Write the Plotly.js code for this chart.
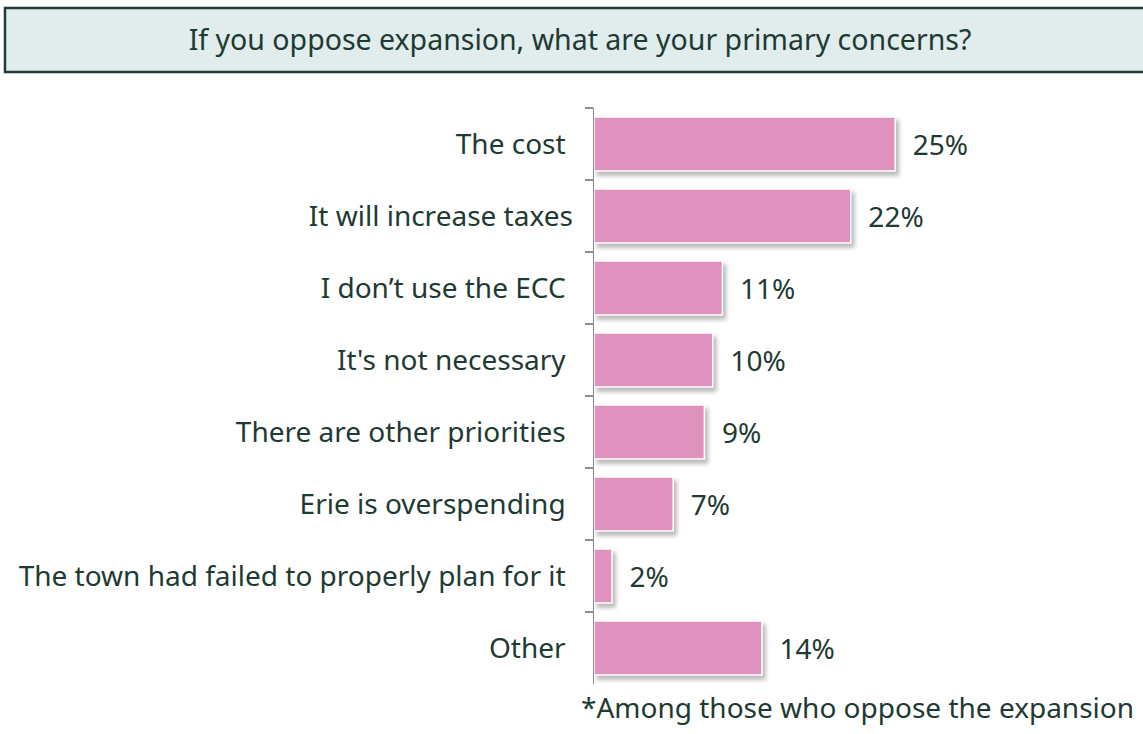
<!DOCTYPE html>
<html>
<head>
<meta charset="utf-8">
<script src="https://cdn.plot.ly/plotly-3.0.1.min.js"></script>
<style>
html,body{margin:0;padding:0;background:#fff;}
#chart{width:1143px;height:734px;}
.bars .point path{filter:drop-shadow(3px 4px 2px rgba(0,0,0,0.28));}
</style>
</head>
<body>
<div id="chart"></div>
<script>
const categories = [
  "The cost ",
  "It will increase taxes",
  "I don\u2019t use the ECC ",
  "It's not necessary ",
  "There are other priorities ",
  "Erie is overspending ",
  "The town had failed to properly plan for it ",
  "Other "
];
const values = [25.1, 21.4, 10.7, 9.9, 9.2, 6.6, 1.5, 14.0];
const valueLabels = ["25%", "22%", "11%", "10%", "9%", "7%", "2%", "14%"];
const titleText = "If you oppose expansion, what are your primary concerns?";
const footnote = "*Among those who oppose the expansion";

const textColor = "#1e3a33";
const fontFam = "'Noto Sans', 'Open Sans', sans-serif";

const trace = {
  type: "bar",
  orientation: "h",
  y: categories,
  x: values,
  text: valueLabels.map(s => "\u00a0\u00a0" + s),
  textposition: "outside",
  cliponaxis: false,
  textfont: {family: fontFam, size: 28, color: textColor},
  marker: {color: "#df92bd", line: {color: "#ffffff", width: 1.5}},
  hoverinfo: "skip"
};

// plot area pixel geometry
const L = 594, T = 108, W = 540, H = 576;
const px = v => (v - L) / W;
const py = v => (T + H - v) / H;

const layout = {
  width: 1143, height: 734,
  margin: {l: L, r: 1143 - L - W, t: T, b: 734 - T - H, pad: 0},
  paper_bgcolor: "#ffffff",
  plot_bgcolor: "#ffffff",
  showlegend: false,
  bargap: 0.25,
  font: {family: fontFam, color: textColor},
  title: {
    text: titleText,
    font: {family: fontFam, size: 28.5, color: textColor},
    x: 580 / 1143, xref: "container", xanchor: "center",
    y: 1 - 40 / 734, yref: "container", yanchor: "middle"
  },
  xaxis: {
    range: [0, 45],
    visible: false,
    fixedrange: true
  },
  yaxis: {
    autorange: "reversed",
    type: "category",
    showline: true,
    linecolor: "#8c8c8c",
    linewidth: 1.5,
    ticks: "outside",
    tickson: "boundaries",
    ticklen: 8,
    tickcolor: "#8c8c8c",
    tickwidth: 1.5,
    showgrid: false,
    ticklabelstandoff: 14,
    tickfont: {family: fontFam, size: 28, color: textColor},
    fixedrange: true
  },
  shapes: [{
    type: "rect", xref: "paper", yref: "paper", layer: "below",
    x0: px(5), x1: px(1150), y0: py(72), y1: py(8),
    fillcolor: "#e1ecec",
    line: {color: "#1f3d36", width: 2.5}
  }],
  annotations: [{
    text: footnote, xref: "paper", yref: "paper",
    x: px(1136), y: py(707), xanchor: "right", yanchor: "middle",
    showarrow: false,
    font: {family: fontFam, size: 28, color: textColor}
  }]
};

Plotly.newPlot("chart", [trace], layout, {displayModeBar: false, staticPlot: true});
</script>
</body>
</html>
